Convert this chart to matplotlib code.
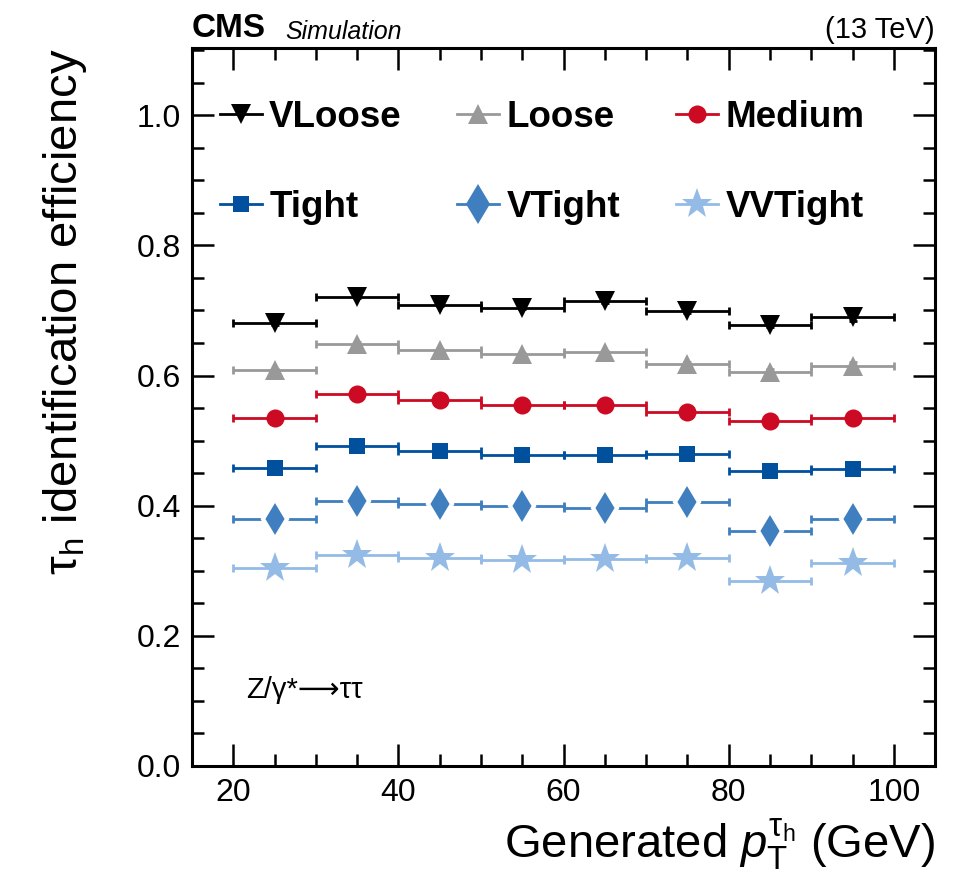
import matplotlib
matplotlib.use("Agg")
import matplotlib.pyplot as plt
from matplotlib.lines import Line2D
from matplotlib.ticker import MultipleLocator
import numpy as np

plt.rcParams['font.family'] = ['Liberation Sans', 'DejaVu Sans']
plt.rcParams['mathtext.fontset'] = 'custom'
plt.rcParams['mathtext.rm'] = 'Liberation Sans'
plt.rcParams['mathtext.it'] = 'Liberation Sans:italic'
plt.rcParams['mathtext.bf'] = 'Liberation Sans:bold'

# bins in generated pT (GeV)
bin_lo = np.array([20, 30, 40, 50, 60, 70, 80, 90])
bin_hi = np.array([30, 40, 50, 60, 70, 80, 90, 100])

names = ["VLoose", "Loose", "Medium", "Tight", "VTight", "VVTight"]
eff_vloose = [0.680, 0.721, 0.709, 0.704, 0.714, 0.699, 0.678, 0.690]
eff_loose = [0.608, 0.649, 0.639, 0.633, 0.636, 0.618, 0.606, 0.615]
eff_medium = [0.535, 0.572, 0.563, 0.554, 0.554, 0.544, 0.530, 0.535]
eff_tight = [0.458, 0.491, 0.484, 0.478, 0.478, 0.479, 0.453, 0.456]
eff_vtight = [0.380, 0.407, 0.403, 0.400, 0.397, 0.405, 0.361, 0.380]
eff_vvtight = [0.304, 0.324, 0.320, 0.317, 0.318, 0.320, 0.284, 0.312]
err_vloose = [0.002, 0.002, 0.002, 0.002, 0.002, 0.003, 0.004, 0.006]
err_loose = [0.002, 0.002, 0.002, 0.002, 0.002, 0.003, 0.004, 0.006]
err_medium = [0.002, 0.002, 0.002, 0.002, 0.002, 0.003, 0.005, 0.006]
err_tight = [0.002, 0.002, 0.002, 0.002, 0.002, 0.003, 0.005, 0.006]
err_vtight = [0.002, 0.002, 0.002, 0.002, 0.002, 0.003, 0.005, 0.006]
err_vvtight = [0.002, 0.002, 0.002, 0.002, 0.002, 0.003, 0.005, 0.007]

effs = [eff_vloose, eff_loose, eff_medium, eff_tight, eff_vtight, eff_vvtight]
errs = [err_vloose, err_loose, err_medium, err_tight, err_vtight, err_vvtight]
colors = ["black", "#999999", "#cc0a23", "#00509e", "#3f7fbf", "#93bbe6"]
markers = ["v", "^", "o", "s", "d", "*"]
msizes = [15, 15, 13, 12, 20, 23]

fig = plt.figure(figsize=(9.65, 8.92), dpi=100)
ax = fig.add_axes([0.199, 0.1413, 0.770, 0.8047])

centers = 0.5 * (bin_lo + bin_hi)
half = 0.5 * (bin_hi - bin_lo)

handles = []
for name, e, de, c, m, ms in zip(names, effs, errs, colors, markers, msizes):
    ax.errorbar(centers, e, xerr=half, yerr=de, fmt='none', ecolor=c,
                elinewidth=2, capsize=3, capthick=2, zorder=2)
    mec = "white" if m == "d" else c
    mew = 3 if m == "d" else 0
    ax.plot(centers, e, ls='none', marker=m, ms=ms, color=c, mec=mec, mew=mew, zorder=3)
    handles.append(Line2D([], [], color=c, lw=2, marker=m, ms=ms, mec=c, mew=0))

# legend row-wise: reorder for column filling
order = [0, 3, 1, 4, 2, 5]
leg = ax.legend([handles[i] for i in order], [names[i] for i in order], ncol=3,
                loc='upper left', bbox_to_anchor=(0.037, 0.928), frameon=False,
                prop={'weight': 'bold', 'size': 26.5}, handlelength=1.15,
                handletextpad=0.2, columnspacing=1.5, labelspacing=1.5,
                borderpad=0, borderaxespad=0)

ax.set_xlim(15, 105)
ax.set_ylim(0, 1.103)
ax.xaxis.set_major_locator(MultipleLocator(20))
ax.xaxis.set_minor_locator(MultipleLocator(5))
ax.yaxis.set_major_locator(MultipleLocator(0.2))
ax.yaxis.set_minor_locator(MultipleLocator(0.05))
ax.yaxis.set_major_formatter(matplotlib.ticker.FormatStrFormatter('%.1f'))
ax.tick_params(which='both', direction='in', top=True, right=True, width=1.8)
ax.tick_params(which='major', length=16, labelsize=23)
ax.tick_params(which='minor', length=8.5)
ax.tick_params(axis='x', pad=9)
ax.tick_params(axis='y', pad=8)
for s in ax.spines.values():
    s.set_linewidth(2.2)

ax.set_xlabel(r"Generated $p_{\mathrm{T}}^{\mathrm{τ}_{\mathrm{h}}}$ (GeV)", fontsize=34,
              loc='right', labelpad=6)
ax.set_ylabel(r"τ$_{\mathrm{h}}$ identification efficiency", fontsize=34,
              loc='top', labelpad=34)

ax.text(0.0, 1.006, "CMS", transform=ax.transAxes, fontsize=24, fontweight='bold',
        ha='left', va='bottom')
ax.text(0.125, 1.006, "Simulation", transform=ax.transAxes, fontsize=18,
        style='italic', ha='left', va='bottom')
ax.text(1.0, 1.006, "(13 TeV)", transform=ax.transAxes, fontsize=21,
        ha='right', va='bottom')
ax.text(21.5, 0.117, "Z/γ*⟶ττ", fontsize=21, ha='left', va='center',
        family=['Liberation Sans', 'DejaVu Sans'])

fig.savefig("out.png", dpi=100)
